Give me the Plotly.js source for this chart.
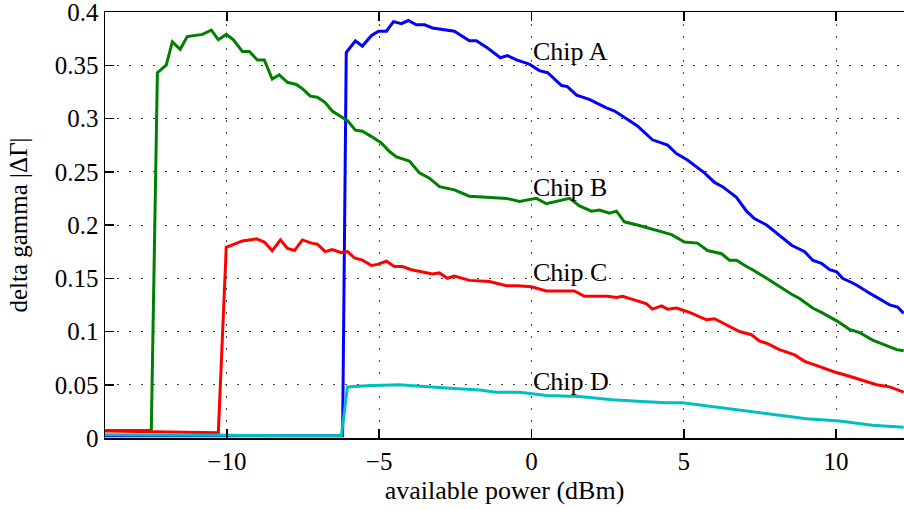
<!DOCTYPE html>
<html>
<head>
<meta charset="utf-8">
<script src="https://cdn.plot.ly/plotly-3.0.1.min.js"></script>
<style>
  html, body { margin: 0; padding: 0; background: #fff; }
  #chart { width: 904px; height: 510px; }
</style>
</head>
<body>
<div id="chart"></div>
<script>
// ---- data (available power in dBm, delta gamma |ΔΓ|) ----
const chipA_x = [-14, -12, -10, -8, -6.2, -6.08, -5.78, -5.55, -5.25, -5.02, -4.76, -4.53, -4.27, -4.04, -3.78, -3.51, -3.25, -2.53, -2.04, -1.81, -1.48, -1.02, -0.79, -0.49, -0.07, 0.26, 0.53, 0.99, 1.18, 1.48, 1.90, 2.46, 2.73, 3.22, 3.48, 3.97, 4.47, 4.76, 5.12, 5.68, 6.01, 6.27, 6.73, 7.06, 7.32, 7.72, 8.14, 8.54, 8.97, 9.23, 9.52, 9.79, 10.02, 10.21, 10.51, 10.71, 11.10, 11.53, 11.76, 12.02, 12.22];
const chipA_y = [0.002, 0.002, 0.002, 0.002, 0.002, 0.362, 0.373, 0.368, 0.378, 0.382, 0.382, 0.391, 0.389, 0.392, 0.388, 0.388, 0.385, 0.382, 0.373, 0.373, 0.367, 0.357, 0.359, 0.355, 0.351, 0.345, 0.343, 0.331, 0.330, 0.322, 0.318, 0.310, 0.307, 0.298, 0.293, 0.280, 0.275, 0.267, 0.261, 0.249, 0.240, 0.236, 0.226, 0.213, 0.206, 0.200, 0.190, 0.181, 0.175, 0.167, 0.164, 0.158, 0.156, 0.150, 0.146, 0.143, 0.136, 0.129, 0.125, 0.123, 0.117];

const chipB_x = [-14, -13, -12.48, -12.28, -11.99, -11.79, -11.53, -11.30, -10.80, -10.51, -10.28, -10.02, -9.79, -9.49, -9.26, -9.00, -8.77, -8.51, -8.28, -8.01, -7.72, -7.52, -7.26, -7.03, -6.77, -6.54, -6.31, -6.04, -5.78, -5.55, -5.25, -4.93, -4.66, -4.43, -4.01, -3.68, -3.35, -3.02, -2.53, -2.04, -1.48, -0.82, -0.39, 0.16, 0.49, 0.76, 1.25, 1.58, 1.97, 2.23, 2.56, 2.79, 3.05, 3.48, 3.88, 4.27, 4.60, 5.02, 5.45, 5.78, 6.24, 6.50, 6.73, 7.06, 7.26, 7.72, 8.14, 8.54, 8.80, 9.23, 9.52, 10.02, 10.44, 10.77, 11.20, 11.66, 11.99, 12.22];
const chipB_y = [0.007, 0.007, 0.007, 0.343, 0.350, 0.372, 0.365, 0.377, 0.379, 0.383, 0.374, 0.379, 0.374, 0.363, 0.363, 0.355, 0.355, 0.337, 0.341, 0.334, 0.332, 0.328, 0.321, 0.320, 0.315, 0.307, 0.303, 0.298, 0.289, 0.288, 0.283, 0.277, 0.269, 0.264, 0.260, 0.249, 0.244, 0.236, 0.233, 0.227, 0.226, 0.225, 0.222, 0.225, 0.220, 0.222, 0.225, 0.218, 0.213, 0.214, 0.211, 0.213, 0.203, 0.200, 0.197, 0.194, 0.191, 0.184, 0.183, 0.176, 0.173, 0.167, 0.167, 0.161, 0.158, 0.150, 0.142, 0.135, 0.131, 0.122, 0.118, 0.110, 0.102, 0.099, 0.092, 0.087, 0.083, 0.082];

const chipC_x = [-14, -12, -10.28, -10.02, -9.82, -9.49, -9.03, -8.77, -8.51, -8.24, -8.01, -7.78, -7.52, -7.22, -7.03, -6.77, -6.54, -6.24, -6.04, -5.81, -5.55, -5.25, -5.06, -4.76, -4.50, -4.24, -3.94, -3.58, -3.25, -3.02, -2.76, -2.53, -2.04, -1.38, -0.82, -0.46, 0.00, 0.49, 1.41, 1.74, 2.23, 2.50, 2.79, 2.99, 3.45, 3.78, 3.97, 4.27, 4.47, 4.76, 5.19, 5.45, 5.75, 6.01, 6.44, 6.83, 7.22, 7.49, 7.72, 8.14, 8.64, 8.97, 9.46, 9.95, 10.44, 10.87, 11.33, 11.76, 12.22];
const chipC_y = [0.0065, 0.006, 0.005, 0.179, 0.181, 0.185, 0.187, 0.184, 0.176, 0.186, 0.178, 0.176, 0.186, 0.183, 0.182, 0.175, 0.177, 0.174, 0.175, 0.169, 0.167, 0.162, 0.163, 0.166, 0.161, 0.161, 0.158, 0.156, 0.154, 0.155, 0.150, 0.152, 0.148, 0.147, 0.143, 0.143, 0.142, 0.138, 0.138, 0.133, 0.133, 0.133, 0.132, 0.133, 0.129, 0.126, 0.121, 0.124, 0.121, 0.122, 0.118, 0.115, 0.111, 0.112, 0.106, 0.100, 0.097, 0.091, 0.089, 0.083, 0.078, 0.072, 0.067, 0.062, 0.058, 0.054, 0.050, 0.048, 0.043];

const chipD_x = [-14, -12, -10, -8, -6.24, -6.04, -5.42, -4.34, -3.68, -2.79, -1.71, -1.15, -0.39, 0.49, 1.58, 2.66, 3.78, 4.43, 4.96, 5.75, 6.83, 7.91, 9.03, 10.11, 11.20, 12.22];
const chipD_y = [0.003, 0.003, 0.0025, 0.002, 0.002, 0.048, 0.049, 0.050, 0.049, 0.047, 0.045, 0.043, 0.043, 0.040, 0.039, 0.036, 0.034, 0.033, 0.033, 0.030, 0.026, 0.022, 0.018, 0.016, 0.012, 0.010];

const labels = ["Chip A", "Chip B", "Chip C", "Chip D"];
const labelX = [0, 0, 0, 0];
const labelY = [0.363, 0.235, 0.155, 0.053];
const xTicks = [-10, -5, 0, 5, 10];
const yTicks = [0, 0.05, 0.1, 0.15, 0.2, 0.25, 0.3, 0.35, 0.4];
const yTickText = ["0", "0.05", "0.1", "0.15", "0.2", "0.25", "0.3", "0.35", "0.4"];

const colors = ["#0000ff", "#008000", "#ff0000", "#00bfbf"];
const serif = "Liberation Serif, Times New Roman, serif";

const series = [[chipA_x, chipA_y], [chipB_x, chipB_y], [chipC_x, chipC_y], [chipD_x, chipD_y]];
const traces = series.map((s, i) => ({
  x: s[0], y: s[1], type: "scatter", mode: "lines", name: labels[i],
  line: { color: colors[i], width: 3 }, hoverinfo: "skip"
}));

const annotations = labels.map((t, i) => ({
  x: labelX[i], y: labelY[i], xref: "x", yref: "y", text: t, showarrow: false,
  xanchor: "left", yanchor: "middle", font: { family: serif, size: 26, color: "#000" }
}));

const layout = {
  width: 904, height: 510,
  margin: { l: 105, r: 0, t: 12, b: 72, pad: 0 },
  paper_bgcolor: "#fff", plot_bgcolor: "#fff",
  showlegend: false,
  font: { family: serif, size: 25, color: "#000" },
  xaxis: {
    range: [-14, 12.23], tickmode: "array", tickvals: xTicks,
    ticks: "inside", ticklen: 9, tickwidth: 1.5, tickcolor: "#000",
    showline: true, linecolor: "#000", linewidth: 1.5, mirror: "ticks",
    showgrid: true, gridcolor: "#444", gridwidth: 1, griddash: "1.5px,10.5px",
    zeroline: false, automargin: false,
    tickfont: { family: serif, size: 25, color: "#000" },
    title: { text: "available power (dBm)", font: { family: serif, size: 26, color: "#000" }, standoff: 7 }
  },
  yaxis: {
    range: [0, 0.40001], tickmode: "array", tickvals: yTicks, ticktext: yTickText,
    ticklabeloverflow: "allow",
    ticks: "inside", ticklen: 9, tickwidth: 1.5, tickcolor: "#000",
    showline: true, linecolor: "#000", linewidth: 1.5, mirror: false,
    showgrid: true, gridcolor: "#444", gridwidth: 1, griddash: "1.5px,10.5px",
    zeroline: false, automargin: false,
    tickfont: { family: serif, size: 25, color: "#000" },
    title: { text: "delta gamma |ΔΓ|", font: { family: serif, size: 25, color: "#000" }, standoff: 20 }
  },
  annotations: annotations
};

Plotly.newPlot("chart", traces, layout, { staticPlot: true, displayModeBar: false });
</script>
</body>
</html>
